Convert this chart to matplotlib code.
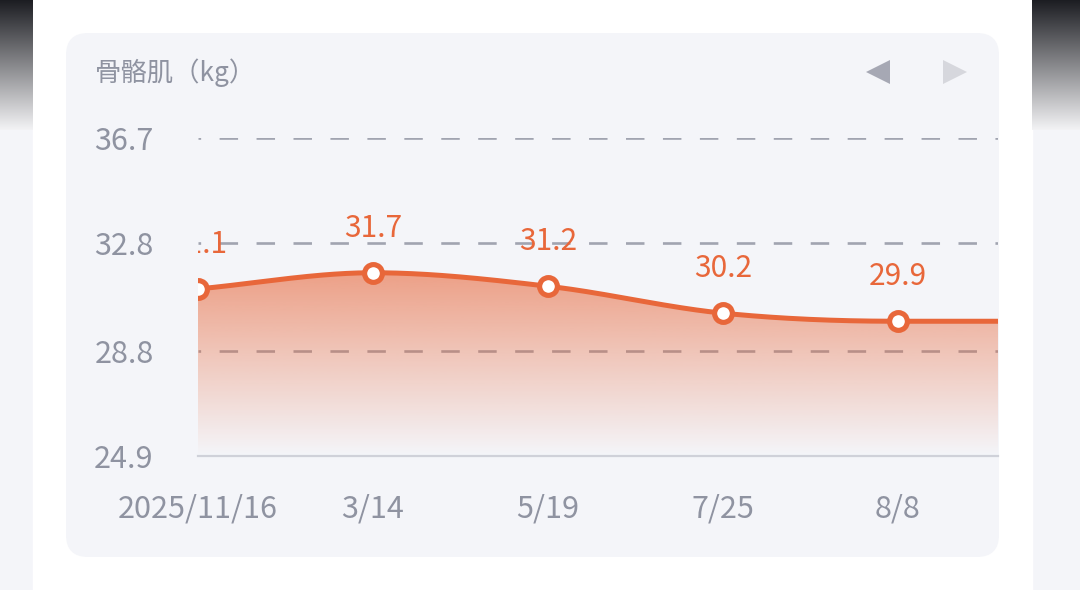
import numpy as np
import matplotlib
matplotlib.use("Agg")
import matplotlib.pyplot as plt
from matplotlib.patches import FancyBboxPatch, Rectangle
from matplotlib.colors import to_rgb

plt.rcParams['font.family'] = ['Noto Sans CJK SC', 'DejaVu Sans']

# 数据
title = "骨骼肌（kg）"
dates = ["2025/11/16", "3/14", "5/19", "7/25", "8/8"]
values = [31.1, 31.7, 31.2, 30.2, 29.9]
# 下一个点在可视区之外，折线在 29.9 水平延伸出去
next_value = 29.9
y_ticks = [24.9, 28.8, 32.8, 36.7]

ORANGE = '#e8673a'
TXT = '#8f93a1'
CARD = '#f4f5f9'

W, H = 1080, 590
fig = plt.figure(figsize=(W / 100, H / 100), dpi=100)

# 背景层（像素坐标）
bg = fig.add_axes([0, 0, 1, 1])
bg.axis('off')
bg.add_patch(Rectangle((0, 0), W, H, color=CARD, zorder=0.5))
bg.add_patch(Rectangle((33, 0), 999, H, color='white', zorder=1))

# 两侧顶部的暗色渐变
top = np.array(to_rgb('#1c1d22'))
bot = np.array(to_rgb('#f3f3f5'))
t = np.linspace(0, 1, 256)[:, None, None]
strip = top * (1 - t) + bot * t
for x0, x1 in [(0, 33), (1032, 1080)]:
    bg.imshow(strip, extent=[x0, x1, 130, 0], origin='upper', aspect='auto', zorder=1.5)

card = FancyBboxPatch((66, 33), 933, 524, boxstyle="round,pad=0,rounding_size=22",
                      facecolor=CARD, edgecolor='none', zorder=2)
bg.add_patch(card)

bg.text(95, 73, title, fontsize=19, color=TXT, va='center', ha='left', zorder=3)
bg.plot(878, 72, marker='<', ms=17, color='#a6a8b4', mew=0, zorder=3)
bg.plot(955, 72, marker='>', ms=17, color='#d6d7dd', mew=0, zorder=3)
bg.set_xlim(0, W)
bg.set_ylim(H, 0)

# 图表层
ax = fig.add_axes([198 / W, 1 - 456 / H, 800 / W, 318 / H])
ax.patch.set_alpha(0)

ys = np.array(values + [next_value])
xs = np.arange(len(ys))

# 单调三次 Hermite 平滑
d = np.diff(ys)
m = np.zeros_like(ys)
for i in range(1, len(ys) - 1):
    if d[i - 1] * d[i] > 0:
        m[i] = (d[i - 1] + d[i]) / 2
m[0] = d[0]
m[-1] = 0
xx, yy = [], []
for i in range(len(ys) - 1):
    s = np.linspace(0, 1, 60)
    h00 = 2 * s**3 - 3 * s**2 + 1
    h10 = s**3 - 2 * s**2 + s
    h01 = -2 * s**3 + 3 * s**2
    h11 = s**3 - s**2
    xx.append(xs[i] + s)
    yy.append(h00 * ys[i] + h10 * m[i] + h01 * ys[i + 1] + h11 * m[i + 1])
xx = np.concatenate(xx)
yy = np.concatenate(yy)

# 网格线
for y in y_ticks[1:]:
    ax.axhline(y, color='#a1a4b0', lw=1.9, ls=(6.0, (7.0, 7.0)), zorder=1)
ax.axhline(y_ticks[0], color='#cfd1d9', lw=1.6, clip_on=False, zorder=2.5)

# 渐变面积
poly = ax.fill_between(xx, yy, y_ticks[0], facecolor='none', edgecolor='none')
grad = np.zeros((256, 1, 4))
grad[..., :3] = to_rgb(ORANGE)
grad[..., 3] = np.linspace(0.6, 0.0, 256)[:, None]
im = ax.imshow(grad, extent=[0, xs[-1], y_ticks[0], ys.max()], origin='upper',
               aspect='auto', zorder=2)
im.set_clip_path(poly.get_paths()[0], transform=ax.transData)

ax.plot(xx, yy, color=ORANGE, lw=3.6, zorder=3, solid_capstyle='round')
ax.plot(xs, ys, 'o', ms=12.8, mfc='white', mec=ORANGE, mew=3.7, zorder=4)

for i, v in enumerate(values):
    ax.annotate(f"{v}", (i, v), xytext=(0, 32), textcoords='offset points',
                ha='center', va='center', color=ORANGE, fontsize=21.5,
                clip_on=True, annotation_clip=False, zorder=5)

ax.set_xlim(0, 800 / 175)
ax.set_ylim(y_ticks[0], y_ticks[-1])
ax.set_yticks(y_ticks)
ax.set_yticklabels([f"{v}" for v in y_ticks])
ax.set_xticks(range(len(dates)))
ax.set_xticklabels(dates)
ax.tick_params(axis='both', length=0, labelsize=22, colors=TXT)
ax.tick_params(axis='y', pad=32)
ax.tick_params(axis='x', pad=27)
for sp in ax.spines.values():
    sp.set_visible(False)

fig.savefig("out.png", dpi=100)
